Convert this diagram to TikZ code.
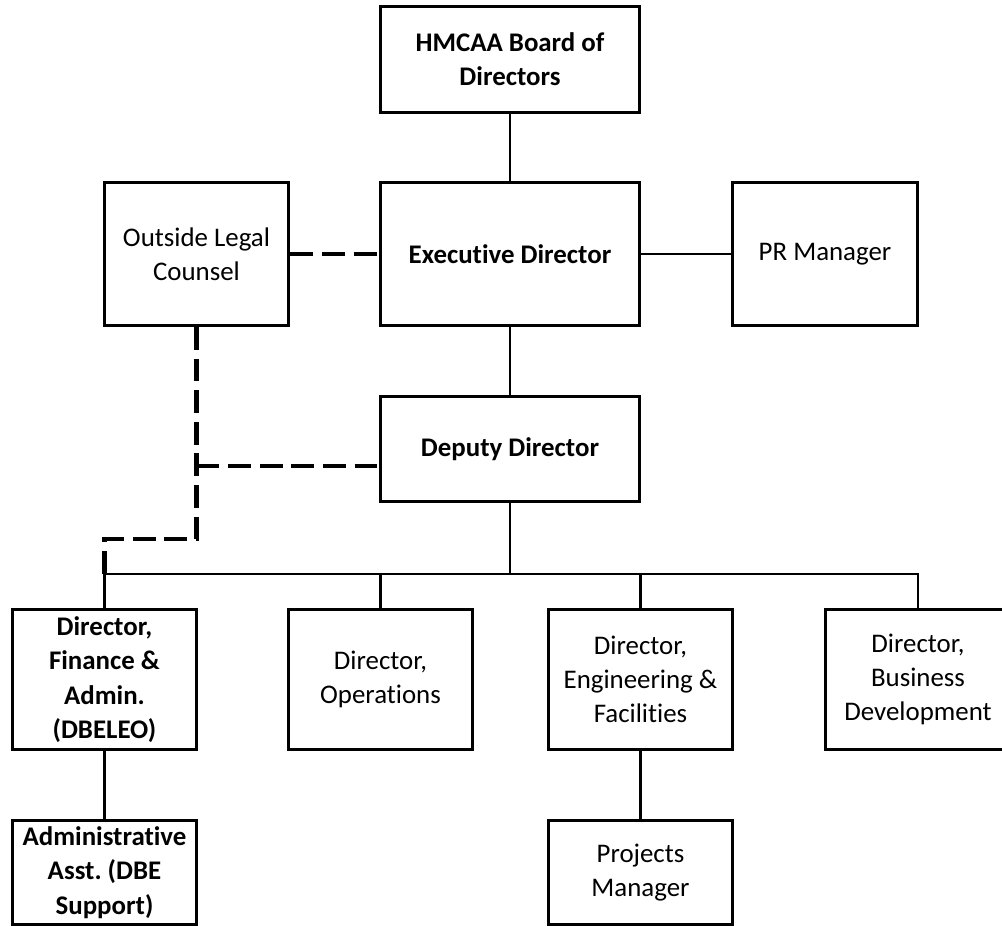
\documentclass[tikz,border=0pt]{standalone}
\usepackage{fontspec}
\setmainfont{Carlito}[Ligatures=NoCommon]
\usetikzlibrary{positioning}
\frenchspacing

\begin{document}
\begin{tikzpicture}[x=0.02cm, y=-0.02cm,
    box/.style={draw, line width=1.7pt, align=center, inner sep=2pt,
        font=\fontsize{15.3}{19.5}\selectfont},
    bigbox/.style={box, minimum width=5.2cm, minimum height=2.88cm},
    smallbox/.style={box, minimum width=3.7cm, minimum height=2.86cm},
    link/.style={line width=1.3pt},
    dotted link/.style={line width=2.6pt, dash pattern=on 13pt off 5pt}]
    \useasboundingbox (0,0) rectangle (1002,926);
    % top of the chart
    \node[bigbox, minimum height=2.14cm] (board) at (510,59.5) {\textbf{HMCAA Board of}\\\textbf{Directors}};
    \node[bigbox] (exec) at (510,254) {\textbf{Executive Director}};
    \node[smallbox] (legal) at (196.5,254) {Outside Legal\\Counsel};
    \node[smallbox] (pr) at (825,254) {PR Manager};
    \node[bigbox, minimum height=2.12cm] (deputy) at (510,449) {\textbf{Deputy Director}};
    % directors
    \node[smallbox, minimum height=2.82cm] (finance) at (104.5,679.5) {\textbf{Director,}\\\textbf{Finance \&}\\\textbf{Admin.}\\\textbf{(DBELEO)}};
    \node[smallbox, minimum height=2.82cm] (ops) at (380.5,679.5) {Director,\\Operations};
    \node[smallbox, minimum height=2.82cm] (eng) at (640.5,679.5) {Director,\\Engineering \&\\Facilities};
    \node[smallbox, minimum height=2.82cm] (biz) at (918,679.5) {Director,\\Business\\Development};
    % bottom row
    \node[smallbox, minimum height=2.1cm] (admin) at (104.5,872.5) {\textbf{Administrative}\\\textbf{Asst. (DBE}\\\textbf{Support)}};
    \node[smallbox, minimum height=2.1cm] (proj) at (640.5,872.5) {Projects\\Manager};

    \draw[link] (board) -- (exec);
    \draw[link] (exec) -- (pr);
    \draw[link] (exec) -- (deputy);
    \coordinate (bus) at (510,574);
    \draw[link] (deputy) -- (bus);
    \draw[link] (finance.north) |- (bus) -| (biz.north);
    \draw[link] (ops.north) -- (ops.north |- bus);
    \draw[link] (eng.north) -- (eng.north |- bus);
    \draw[link] (finance) -- (admin);
    \draw[link] (eng) -- (proj);

    % dashed lines to legal counsel
    \draw[dotted link] (legal) -- (exec);
    \coordinate (bend) at (196.5,539);
    \draw[dotted link] (legal.south) -- (bend) -| (finance.north |- bus);
    \draw[dotted link] (legal.south |- 0,466) -- (deputy.west |- 0,466);
\end{tikzpicture}
\end{document}
